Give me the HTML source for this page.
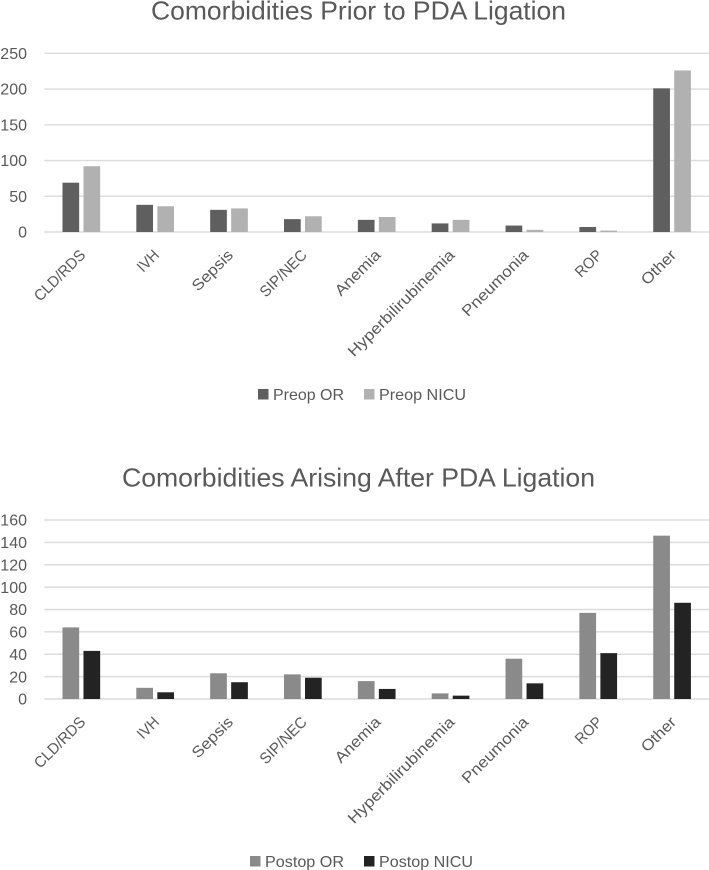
<!DOCTYPE html>
<html lang="en">
<head>
<meta charset="utf-8">
<title>Comorbidities Before and After PDA Ligation</title>
<style>
  html, body { margin: 0; padding: 0; background: #fff; }
  body { width: 709px; height: 870px; overflow: hidden; }
  svg { display: block; font-family: "Liberation Sans", sans-serif; filter: blur(0.3px); }
  text { fill: #595959; }
</style>
</head>
<body>
<svg id="figure" xmlns="http://www.w3.org/2000/svg" width="709" height="870" viewBox="0 0 709 870"></svg>
<script>
const categories = ["CLD/RDS", "IVH", "Sepsis", "SIP/NEC", "Anemia", "Hyperbilirubinemia", "Pneumonia", "ROP", "Other"];
const preopOR = [69, 38, 31, 18, 17, 12, 9, 7, 201];
const preopNICU = [92, 36, 33, 22, 21, 17, 3, 2, 226];
const postopOR = [64, 10, 23, 22, 16, 5, 36, 77, 146];
const postopNICU = [43, 6, 15, 19, 9, 3, 14, 41, 86];
const preopTicks = [0, 50, 100, 150, 200, 250];
const postopTicks = [0, 20, 40, 60, 80, 100, 120, 140, 160];

const NS = "http://www.w3.org/2000/svg";
const figure = document.getElementById("figure");

function make(parent, tag, attrs, content) {
  const el = document.createElementNS(NS, tag);
  for (const k in attrs) el.setAttribute(k, attrs[k]);
  if (content !== undefined) el.textContent = content;
  parent.appendChild(el);
  return el;
}

function labelStretch(text) {
  const upper = text.replace(/[^A-Z]/g, "").length / text.length;
  return 1.13 - 0.2 * upper;
}

function drawChart(cfg) {
  const plotLeft = 44.4, plotRight = 709, barW = 16.7, barGap = 4.3;
  const step = (plotRight - plotLeft) / categories.length;
  const maxTick = cfg.ticks[cfg.ticks.length - 1];
  const yScale = v => cfg.bottom - (v / maxTick) * (cfg.bottom - cfg.top);
  const xCenter = i => plotLeft + step * (i + 0.5);

  const chart = make(figure, "g", {});
  
  

  const title = make(chart, "text", {
    x: cfg.titleX, y: cfg.titleY, "font-size": 26,
    textLength: cfg.titleW, lengthAdjust: "spacingAndGlyphs"
  }, cfg.title);
  
  

  cfg.ticks.forEach(t => {
    const y = yScale(t);
    const line = make(chart, "line", {
      x1: plotLeft, x2: plotRight, y1: y, y2: y,
      stroke: "#dcdcdc", "stroke-width": 1.4
    });
    
    

    const label = make(chart, "text", {
      "text-anchor": "end",
      "font-size": 16,
      transform: `translate(27 ${y + 5.7})`
    }, String(t));
    
    
  });

  categories.forEach((c, i) => {
    const cx = xCenter(i);
    const h0 = yScale(cfg.seriesA[i]);
    const h1 = yScale(cfg.seriesB[i]);

    const barA = make(chart, "rect", {
      x: cx - barGap / 2 - barW, y: h0, width: barW,
      height: Math.max(0, cfg.bottom - h0), fill: cfg.colorA
    });
    
    

    const barB = make(chart, "rect", {
      x: cx + barGap / 2, y: h1, width: barW,
      height: Math.max(0, cfg.bottom - h1), fill: cfg.colorB
    });
    
    

    const label = make(chart, "text", {
      "text-anchor": "end",
      "font-size": 15.5,
      transform: `translate(${cx + 5} ${cfg.bottom + 24}) rotate(-45) scale(${labelStretch(c)} 1)`
    }, c);
    
    
  });

  const legendA = make(chart, "rect", {
    x: cfg.legendAX, y: cfg.legendY - 11, width: 10.5, height: 10.5, fill: cfg.colorA
  });
  
  

  const legendTextA = make(chart, "text", {
    x: cfg.legendAX + 15, y: cfg.legendY, "font-size": 16,
    textLength: cfg.legendAW, lengthAdjust: "spacingAndGlyphs"
  }, cfg.labelA);
  
  

  const legendB = make(chart, "rect", {
    x: 364, y: cfg.legendY - 11, width: 10.5, height: 10.5, fill: cfg.colorB
  });
  
  

  const legendTextB = make(chart, "text", {
    x: 379, y: cfg.legendY, "font-size": 16,
    textLength: cfg.legendBW, lengthAdjust: "spacingAndGlyphs"
  }, cfg.labelB);
  
  
}

drawChart({
  name: "preop-comorbidities-chart",
  title: "Comorbidities Prior to PDA Ligation",
  titleX: 151, titleY: 19.5, titleW: 415,
  top: 53.3, bottom: 232,
  ticks: preopTicks,
  seriesA: preopOR, seriesB: preopNICU,
  colorA: "#5f5f5f", colorB: "#b1b1b1",
  labelA: "Preop OR", labelB: "Preop NICU",
  legendAX: 258, legendAW: 71, legendBW: 87, legendY: 400
});

drawChart({
  name: "postop-comorbidities-chart",
  title: "Comorbidities Arising After PDA Ligation",
  titleX: 122, titleY: 486.5, titleW: 473,
  top: 520, bottom: 699,
  ticks: postopTicks,
  seriesA: postopOR, seriesB: postopNICU,
  colorA: "#8a8a8a", colorB: "#232323",
  labelA: "Postop OR", labelB: "Postop NICU",
  legendAX: 250, legendAW: 79, legendBW: 94, legendY: 867
});
</script>
</body>
</html>
